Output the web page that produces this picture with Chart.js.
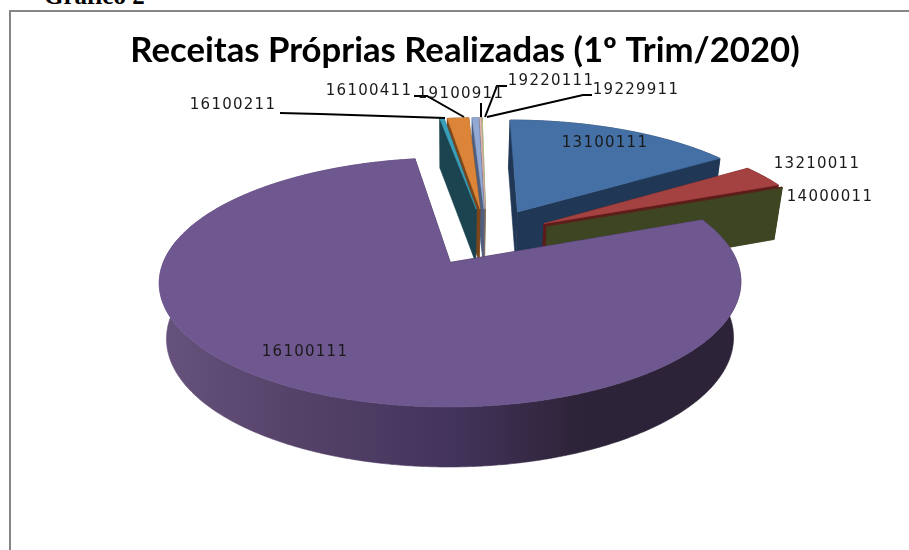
<!DOCTYPE html>
<html>
<head>
<meta charset="utf-8">
<style>
  html, body { margin: 0; padding: 0; background: #fff; overflow: hidden; }
  #wrap { position: relative; width: 909px; height: 550px; overflow: hidden; }
  #heading { position: absolute; left: 44px; top: -18px; font: bold 25px "Liberation Serif", serif; color: #000; }
  #frame { position: absolute; left: 9px; top: 10px; width: 920px; height: 560px; border: 2px solid #868686; box-sizing: border-box; }
  #box { position: absolute; left: 0; top: 0; width: 909px; height: 550px; }
</style>
<script src="https://cdn.jsdelivr.net/npm/chart.js@4/dist/chart.umd.min.js"></script>
</head>
<body>
<div id="wrap">
  <div id="heading">Gráfico 2</div>
  <div id="frame"></div>
  <div id="box"><canvas id="pie"></canvas></div>
</div>
<script>
const chartTitle = "Receitas Próprias Realizadas (1º Trim/2020)";
const categories = ["13100111", "13210011", "14000011", "16100111", "16100211", "16100411", "19100911", "19220111", "19229911"];
const shares = [15.75, 3.14, 0.05, 78.69, 0.3, 1.47, 0.44, 0.11, 0.05];

const topColors = ["#4470a6", "#a44141", "#5e1f1a", "#6f5790", "#3a9fb8", "#dc8538", "#92a9d4", "#e0b8b0", "#b8cf8a"];
const sideColors = ["#203755", "#5e1a1a", "#3d4522", "#2c2338", "#1b4450", "#7a451a", "#4f5f80", "#8a6a64", "#6b7d4a"];

// pie plane to screen, with a bit of perspective like the old 3D office charts
const CX = 486.5, CY = 236, RX = 277, RY = 113, PERSP = 0.155, DEPTH = 54, SHEAR = 4;

function project(u, v, bottom) {
    const w = 1 - PERSP * v;
    let x = CX + (RX * u + SHEAR * v) / w;
    let y = CY + RY * v / w;
    if (bottom) {
        y += DEPTH / Math.sqrt(w);
        x = 449 + (x - 449) * 0.975;
    }
    return [x, y];
}

function fillPoly(ctx, pts, color) {
    ctx.beginPath();
    pts.forEach((p, i) => (i ? ctx.lineTo(p[0], p[1]) : ctx.moveTo(p[0], p[1])));
    ctx.closePath();
    ctx.fillStyle = color;
    ctx.strokeStyle = color;
    ctx.lineWidth = 0.6;
    ctx.fill();
    ctx.stroke();
}

const pie3d = {
    id: "pie3d",
    beforeDatasetsDraw(chart, args, opts) {
        const ctx = chart.ctx;
        const arcs = chart.getDatasetMeta(0).data;
        ctx.save();
        opts.order.forEach((i) => {
            const arc = arcs[i];
            const mid = (arc.startAngle + arc.endAngle) / 2;
            const d = arc.options.offset / 100;
            const ox = Math.cos(mid) * d, oy = Math.sin(mid) * d;
            const rim = [];
            const steps = Math.max(2, Math.ceil((arc.endAngle - arc.startAngle) * 120));
            for (let s = 0; s <= steps; s++) {
                const t = arc.startAngle + (arc.endAngle - arc.startAngle) * s / steps;
                rim.push([ox + Math.cos(t), oy + Math.sin(t)]);
            }
            const first = rim[0], last = rim[rim.length - 1];
            // cut faces
            [first, last].forEach((p) => {
                fillPoly(ctx, [project(ox, oy), project(p[0], p[1]), project(p[0], p[1], true), project(ox, oy, true)], sideColors[i]);
            });
            // outer wall
            let wall = sideColors[i];
            if (i === 3) {
                wall = ctx.createLinearGradient(160, 0, 620, 0);
                wall.addColorStop(0, "#66527c");
                wall.addColorStop(0.3, "#554269");
                wall.addColorStop(0.65, "#42335a");
                wall.addColorStop(0.9, "#2e2439");
                wall.addColorStop(1, "#2c2338");
            }
            fillPoly(ctx, rim.map((p) => project(p[0], p[1])).concat(rim.slice().reverse().map((p) => project(p[0], p[1], true))), wall);
            // top face
            fillPoly(ctx, [project(ox, oy)].concat(rim.map((p) => project(p[0], p[1]))), topColors[i]);
        });
        ctx.restore();
        return false;
    },
    afterDraw(chart, args, opts) {
        const ctx = chart.ctx;
        ctx.save();
        ctx.strokeStyle = "#000";
        ctx.lineWidth = 2;
        opts.leaders.forEach((line) => {
            ctx.beginPath();
            line.forEach((p, i) => (i ? ctx.lineTo(p[0], p[1]) : ctx.moveTo(p[0], p[1])));
            ctx.stroke();
        });
        ctx.font = '15px "DejaVu Sans"';
        ctx.letterSpacing = "1.25px";
        ctx.fillStyle = "#1a1a1a";
        ctx.textAlign = "center";
        ctx.textBaseline = "middle";
        categories.forEach((c, i) => ctx.fillText(c, opts.spots[i][0], opts.spots[i][1]));
        ctx.restore();
    },
};

new Chart(document.getElementById("pie"), {
    type: "pie",
    data: {
        labels: categories,
        datasets: [{
            data: shares,
            backgroundColor: topColors,
            offset: [25, 24, 24, 26, 25, 25, 25, 25, 25],
        }],
    },
    options: {
        responsive: true,
        maintainAspectRatio: false,
        animation: false,
        layout: { padding: { left: 21 } },
        plugins: {
            legend: { display: false },
            tooltip: { enabled: false },
            title: {
                display: true,
                text: chartTitle,
                color: "#000",
                font: { family: "Lato", size: 34.7, weight: "bold" },
                padding: { top: 30, bottom: 8 },
            },
            pie3d: {
                order: [8, 7, 6, 5, 4, 0, 1, 2, 3],
                spots: [[605, 143], [817, 164], [830, 197], [305, 352], [233, 105], [369, 91], [461, 94], [551, 81], [636, 90]],
                leaders: [
                    [[280, 113], [320, 114], [445, 118]],
                    [[414, 96], [427, 96], [464, 117]],
                    [[481, 103], [481, 117]],
                    [[507, 86], [497, 86], [485, 117]],
                    [[592, 95], [583, 95], [487, 117]],
                ],
            },
        },
    },
    plugins: [pie3d],
});
</script>
</body>
</html>
